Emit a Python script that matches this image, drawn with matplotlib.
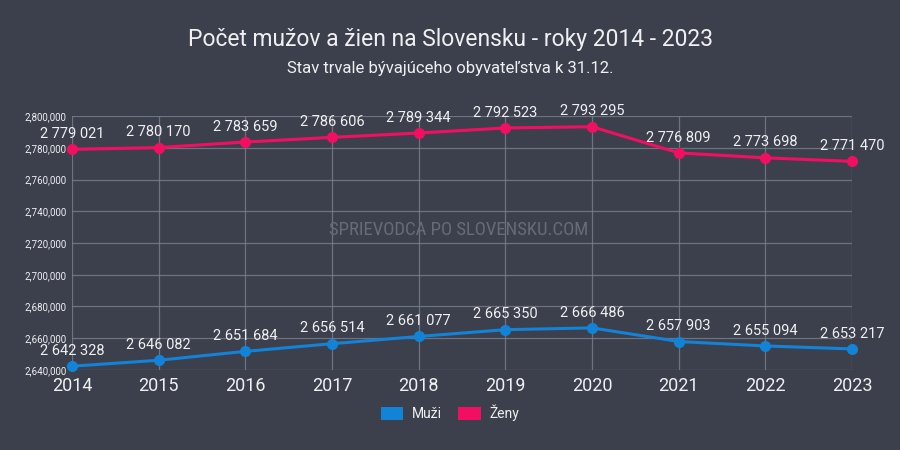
import matplotlib.pyplot as plt
from matplotlib.patches import Patch

# =========================================================
# Data
# =========================================================
years = [2014, 2015, 2016, 2017, 2018, 2019, 2020, 2021, 2022, 2023]
muzi = [2642328, 2646082, 2651684, 2656514, 2661077, 2665350, 2666486, 2657903, 2655094, 2653217]
zeny = [2779021, 2780170, 2783659, 2786606, 2789344, 2792523, 2793295, 2776809, 2773698, 2771470]

title = "Počet mužov a žien na Slovensku - roky 2014 - 2023"
subtitle = "Stav trvale bývajúceho obyvateľstva k 31.12."

bg = "#3b404c"
blue = "#1283d6"
pink = "#f20f62"
txt = "#f0f0f2"

plt.rcParams["font.family"] = ["Roboto", "DejaVu Sans"]

fig = plt.figure(figsize=(9, 4.5), dpi=100, facecolor=bg)
ax = fig.add_axes([0.08, 0.178, 0.8667, 0.564])
ax.set_facecolor(bg)

# lines + points
for vals, col in [(muzi, blue), (zeny, pink)]:
    ax.plot(years, vals, color=col, lw=2.2, marker="o", ms=7, zorder=3, clip_on=False)
    for x, v in zip(years, vals):
        ax.annotate(f"{v:,}".replace(",", " "), (x, v), xytext=(0, 6),
                    textcoords="offset points", ha="center", va="bottom",
                    color=txt, fontsize=10.5, zorder=4)

ax.set_xlim(2014, 2023)
ax.set_ylim(2640000, 2800000)
ax.set_xticks(years)
ax.set_yticks(range(2640000, 2800001, 20000))
ax.yaxis.set_major_formatter(plt.FuncFormatter(lambda v, p: f"{int(v):,}"))
ax.tick_params(axis="y", labelsize=7, colors=txt, length=0, pad=4)
ax.tick_params(axis="x", labelsize=13, colors=txt, length=0, pad=5)
ax.grid(True, color="#7a7f8c", lw=0.9, alpha=0.8)
ax.set_axisbelow(True)
for s in ax.spines.values():
    s.set_visible(False)

# watermark
fig.text(0.51, 0.488, "SPRIEVODCA PO SLOVENSKU.COM", ha="center", va="center",
         color="#666b78", fontsize=13.5, fontstretch="condensed",
         family=["Roboto Condensed", "Liberation Sans Narrow", "Roboto"], zorder=1)

# titles
fig.text(0.5, 0.912, title, ha="center", va="center", color=txt, fontsize=16.5)
fig.text(0.5, 0.848, subtitle, ha="center", va="center", color=txt, fontsize=12)

# legend
handles = [Patch(facecolor=blue, label="Muži"), Patch(facecolor=pink, label="Ženy")]
fig.legend(handles=handles, loc="center", bbox_to_anchor=(0.5, 0.082), ncol=2,
           frameon=False, labelcolor=txt, fontsize=10, handlelength=1.6,
           handleheight=1.1, columnspacing=1.2, handletextpad=0.6)

fig.savefig("out.png", dpi=100, facecolor=bg)
